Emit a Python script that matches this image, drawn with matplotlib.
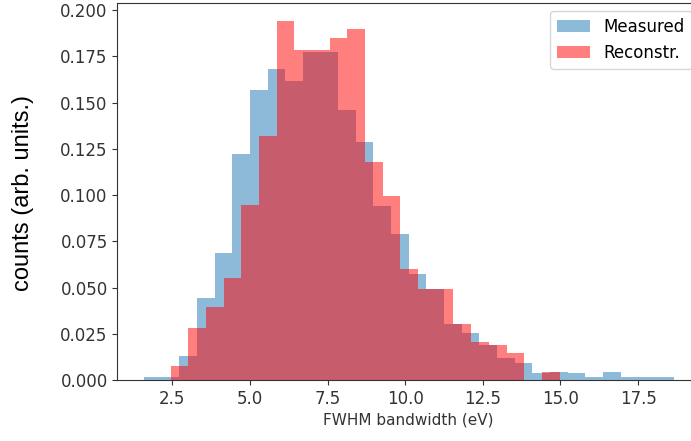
import numpy as np
import matplotlib
matplotlib.use("Agg")
import matplotlib.pyplot as plt

# Measured histogram (density), 30 equal bins
measured_range = (1.586, 18.64)
measured_density = [0.0019, 0.0019, 0.0131, 0.0443, 0.0686, 0.1220, 0.1568, 0.1680,
                    0.1616, 0.1774, 0.1774, 0.1460, 0.1288, 0.0941, 0.0788, 0.0573,
                    0.0491, 0.0302, 0.0254, 0.0191, 0.0119, 0.0095, 0.0040, 0.0047,
                    0.0038, 0.0019, 0.0047, 0.0019, 0.0019, 0.0019]

# Reconstructed histogram (density), 22 equal bins
reconstr_range = (2.445, 14.97)
reconstr_density = [0.0077, 0.0284, 0.0397, 0.0554, 0.0947, 0.1320, 0.1942, 0.1783,
                    0.1783, 0.1847, 0.1895, 0.1180, 0.0993, 0.0603, 0.0491, 0.0491,
                    0.0303, 0.0208, 0.0191, 0.0146, 0.0, 0.0047]

labels = ["Measured", "Reconstr."]
xlabel = "FWHM bandwidth (eV)"
ylabel = "counts (arb. units.)"

plt.rcParams["font.size"] = 12

fig = plt.figure(figsize=(6.91, 4.41), dpi=100)
ax = fig.add_axes([0.170, 0.1376, 0.843, 0.856])

m_edges = np.linspace(measured_range[0], measured_range[1], len(measured_density) + 1)
r_edges = np.linspace(reconstr_range[0], reconstr_range[1], len(reconstr_density) + 1)

ax.hist(m_edges[:-1], bins=m_edges, weights=measured_density, alpha=0.5,
        color="C0", label=labels[0])
ax.hist(r_edges[:-1], bins=r_edges, weights=reconstr_density, alpha=0.5,
        color="red", label=labels[1])

ax.set_xlabel(xlabel, fontsize=11, labelpad=3, color="#333333")
ax.set_xticks([2.5, 5.0, 7.5, 10.0, 12.5, 15.0, 17.5])
ax.set_yticks(np.arange(0, 0.201, 0.025))
ax.yaxis.set_major_formatter(matplotlib.ticker.FormatStrFormatter("%.3f"))
ax.xaxis.set_major_formatter(matplotlib.ticker.FormatStrFormatter("%.1f"))
ax.tick_params(labelsize=12, labelcolor="#333333", color="#333333")
for s in ax.spines.values():
    s.set_color("#333333")
ax.legend(loc="upper right", fontsize=12)

fig.text(23 / 691, 1 - 193 / 441, ylabel, rotation=90, ha="center", va="center",
         fontsize=17, family="Liberation Sans", color="black")

fig.savefig("out.png", dpi=100)
